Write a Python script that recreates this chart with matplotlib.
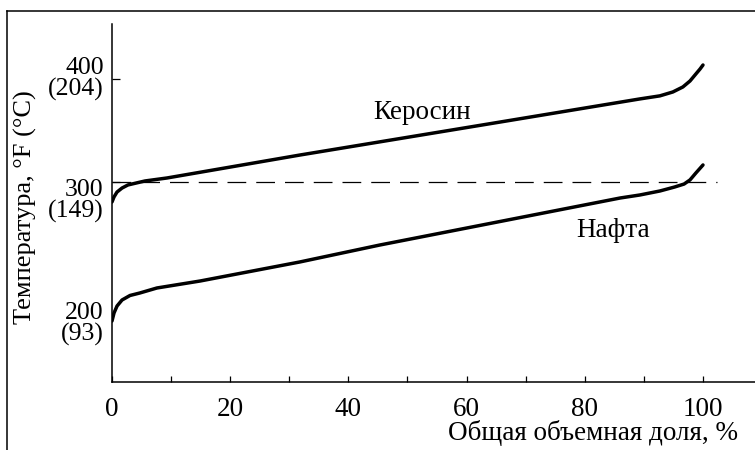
import numpy as np
import matplotlib.pyplot as plt
import matplotlib.transforms as mtransforms
from matplotlib.lines import Line2D

plt.rcParams['font.family'] = ['Liberation Serif', 'DejaVu Serif']

# Кривые разгонки (объем, %; температура, °F)
kero_x = [0, 0.34, 0.85, 1.7, 2.7, 4.1, 5.6, 9.3, 31.8, 65.7, 89.3, 92.7, 94.9, 96.6, 97.8, 98.8, 99.5, 100]
kero_t = [280.5, 285.4, 290.2, 294.1, 297.1, 299.0, 301.0, 303.9, 326.3, 358.5, 381.0, 384.0, 387.8, 392.7, 398.5, 405.4, 410.2, 414.1]

nafta_x = [0, 0.34, 0.85, 1.7, 3.05, 4.7, 7.6, 14.9, 31.8, 45.3, 86.0, 89.3, 92.7, 95.2, 96.8, 97.8, 98.8, 100]
nafta_t = [164.4, 172.2, 179.0, 184.9, 189.3, 191.7, 196.6, 203.4, 222.0, 238.5, 284.4, 287.3, 291.2, 295.1, 298.0, 302.0, 308.8, 316.6]

cut_t = 300
ytick_f = [200, 300, 400]
ytick_c = [93, 149, 204]
label_shift = [37, 17, -3]   # сдвиг подписей вниз, px
xticks_major = [0, 20, 40, 60, 80, 100]
xticks_minor = [10, 30, 50, 70, 90]

fs = 19.5

fig = plt.figure(figsize=(7.55, 4.5), dpi=100)
ax = fig.add_axes([112/755, 68/450, 643/755, 358/450])

ax.plot(kero_x, kero_t, color='black', lw=2.5, solid_capstyle='round')
ax.plot(nafta_x, nafta_t, color='black', lw=2.5, solid_capstyle='round')
ax.hlines(cut_t, 0, 102.4, colors='black', lw=0.9, linestyles=(0, (15, 8)))

ax.text(52.5, 368, 'Керосин', fontsize=fs, ha='center', va='center')
ax.text(84.8, 253, 'Нафта', fontsize=fs, ha='center', va='center')

ax.set_xlim(0, 108.8)
ax.set_ylim(104.9, 454.1)

for s in ['top', 'right']:
    ax.spines[s].set_visible(False)
for s in ['left', 'bottom']:
    ax.spines[s].set_linewidth(1.1)

ax.set_xticks(xticks_major)
ax.set_xticks(xticks_minor, minor=True)
ax.tick_params(axis='x', which='both', direction='in', length=4, width=0.9,
               labelsize=fs, pad=11)
ax.set_yticks(ytick_f)
ax.set_yticklabels([f'{f}\n({c})' for f, c in zip(ytick_f, ytick_c)])
ax.tick_params(axis='y', direction='in', length=6, width=0.9, labelsize=fs - 1,
               pad=6)
for lab, d in zip(ax.get_yticklabels(), label_shift):
    lab.set_linespacing(0.95)
    lab.set_transform(lab.get_transform() +
                      mtransforms.ScaledTranslation(0, -d/100, fig.dpi_scale_trans))
ax.yaxis.get_major_ticks()[0].tick1line.set_visible(False)

fig.text(25/755, 1 - 207/450, 'Температура, °F (°C)', rotation=90,
         fontsize=19, ha='center', va='center')
fig.text(738/755, 1 - 433/450, 'Общая объемная доля, %', fontsize=fs,
         ha='right', va='center')

# рамка рисунка
fig.add_artist(Line2D([7/755, 1], [1 - 11/450, 1 - 11/450], color='black', lw=1.1))
fig.add_artist(Line2D([7/755, 7/755], [1 - 11/450, 0], color='black', lw=1.1))

fig.savefig('out.png', dpi=100)
